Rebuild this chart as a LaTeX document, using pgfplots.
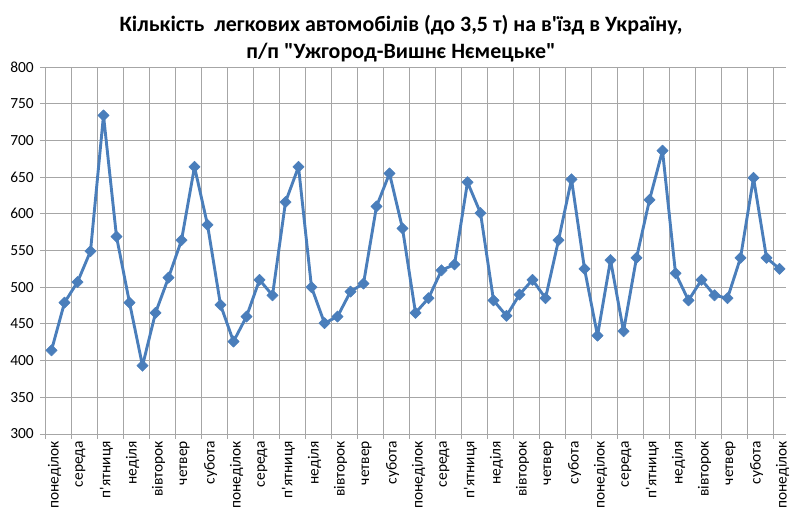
\documentclass[border=0pt]{standalone}
\usepackage{pgfplots}
\pgfplotsset{compat=1.18}
\usepackage{fontspec}
\setmainfont{Carlito}
\definecolor{serie}{HTML}{4A7EBB}
\definecolor{gridc}{HTML}{A6A6A6}
\pgfplotstableread{
x y
1 414
2 479
3 507
4 549
5 734
6 569
7 479
8 393
9 465
10 513
11 564
12 664
13 585
14 476
15 426
16 460
17 510
18 489
19 616
20 664
21 500
22 451
23 460
24 494
25 505
26 610
27 655
28 580
29 465
30 485
31 523
32 531
33 643
34 601
35 482
36 461
37 490
38 510
39 485
40 564
41 647
42 525
43 434
44 537
45 440
46 540
47 619
48 686
49 519
50 482
51 510
52 489
53 485
54 540
55 649
56 540
57 525
}\datatable
\begin{document}
\begin{tikzpicture}[x=1bp,y=1bp]
\useasboundingbox (0,0) rectangle (800,523);
\node[font=\fontsize{22}{26}\selectfont\bfseries, anchor=base, inner sep=0pt] at (401,491.3) {Кількість\ \ легкових автомобілів (до 3,5 т) на в\textquotesingle їзд в Україну,};
\node[font=\fontsize{22}{26}\selectfont\bfseries, anchor=base, inner sep=0pt] at (401,464.7) {п/п \textquotedbl Ужгород-Вишнє Нємецьке\textquotedbl};
\begin{axis}[
  at={(45bp,89bp)}, anchor=south west,
  scale only axis, width=741bp, height=367bp,
  xmin=0.5, xmax=57.5, ymin=300, ymax=800,
  axis x line*=bottom, axis y line*=left,
  axis line style={-, draw=gridc, line width=0.8bp},
  xtick={1,3,...,57},
  xticklabels={понеділок,середа,п\textquotesingle ятниця,неділя,вівторок,четвер,субота,понеділок,середа,п\textquotesingle ятниця,неділя,вівторок,четвер,субота,понеділок,середа,п\textquotesingle ятниця,неділя,вівторок,четвер,субота,понеділок,середа,п\textquotesingle ятниця,неділя,вівторок,четвер,субота,понеділок},
  minor xtick={0.5,2.5,...,56.5},
  major x tick style={draw=none},
  minor tick length=5bp, major tick length=5bp,
  tick align=outside,
  ytick={300,350,...,800},
  xminorgrids, ymajorgrids,
  grid style={draw=gridc, line width=0.8bp},
  minor grid style={draw=gridc, line width=0.8bp},
  tick style={draw=gridc, line width=0.8bp},
  xticklabel style={rotate=90, anchor=east, font=\fontsize{15.5}{17}\selectfont, inner sep=2bp, yshift=-3bp},
  yticklabel style={font=\fontsize{15.5}{17}\selectfont, inner sep=2bp, xshift=-4bp},
  /pgf/number format/assume math mode=true,
  clip=false,
]
\addplot[serie, line width=2.9bp, line join=round, mark=square*, mark size=4bp, mark options={rotate=45, fill=serie, draw=serie, line width=0.5bp}] table[x=x,y=y] {\datatable};
\end{axis}
\end{tikzpicture}
\end{document}
